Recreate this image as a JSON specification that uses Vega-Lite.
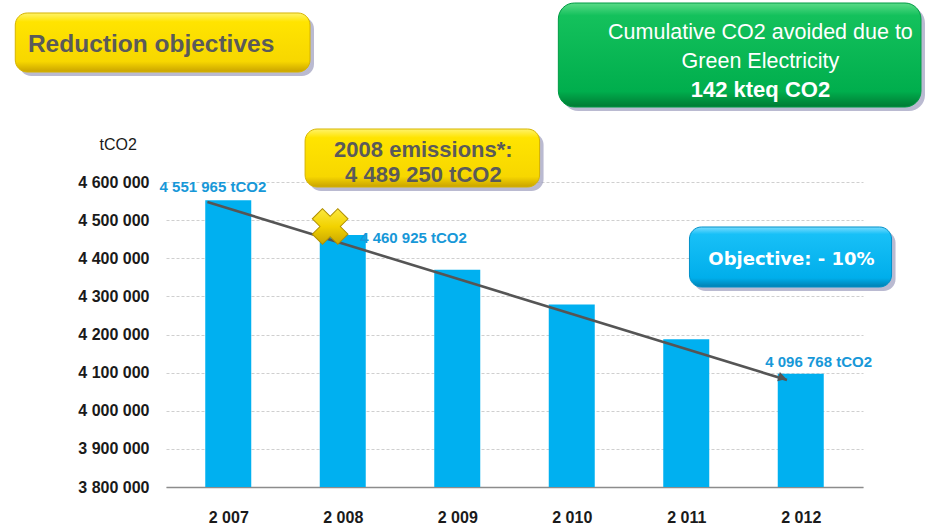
{
  "$schema": "https://vega.github.io/schema/vega-lite/v6.json",
  "width": 697,
  "height": 305,
  "autosize": {"type": "none"},
  "padding": {"left": 166, "top": 182, "right": 70, "bottom": 37},
  "background": "white",
  "config": {
    "view": {"stroke": null},
    "locale": {"number": {"decimal": ",", "thousands": " ", "grouping": [3], "currency": ["", ""]}},
    "font": "Liberation Sans"
  },
  "resolve": {"axis": {"x": "independent", "y": "independent"}},
  "layer": [
    {
      "data": {"values": [
        {"year": 2007, "emissions": 4551965},
        {"year": 2008, "emissions": 4460925},
        {"year": 2009, "emissions": 4369886},
        {"year": 2010, "emissions": 4278847},
        {"year": 2011, "emissions": 4187808},
        {"year": 2012, "emissions": 4096768}
      ]},
      "mark": {"type": "bar", "size": 46, "color": "#00B0F0"},
      "encoding": {
        "x": {"field": "year", "type": "quantitative",
          "scale": {"domain": [2006.5, 2012.5], "nice": false, "zero": false},
          "axis": {"title": null, "values": [2007, 2008, 2009, 2010, 2011, 2012], "format": ",d",
            "grid": false, "ticks": false, "domainColor": "#8C8C8C", "domainWidth": 1.5, "labelOverlap": false,
            "labelFont": "Liberation Sans", "labelFontSize": 16, "labelFontWeight": "bold",
            "labelColor": "#1A1A1A", "labelPadding": 22}},
        "y": {"field": "emissions", "type": "quantitative",
          "scale": {"domain": [3800000, 4600000], "nice": false, "zero": false},
          "axis": {"title": null, "values": [3800000, 3900000, 4000000, 4100000, 4200000, 4300000, 4400000, 4500000, 4600000],
            "format": ",d", "domain": false, "ticks": false, "grid": true, "gridDash": [3, 2],
            "gridColor": "#CFCFCF", "gridWidth": 1, "labelOverlap": false,
            "labelFont": "Liberation Sans", "labelFontSize": 16, "labelFontWeight": "bold",
            "labelColor": "#1A1A1A", "labelPadding": 17}},
        "y2": {"datum": 3800000}
      }
    },
    {
      "data": {"values": [
        {"year": 2006.818, "value": 4547600},
        {"year": 2011.88, "value": 4080700}
      ]},
      "mark": {"type": "line", "color": "#555555", "strokeWidth": 2.6},
      "encoding": {
        "x": {"field": "year", "type": "quantitative", "axis": null, "scale": {"domain": [2006.5, 2012.5], "nice": false, "zero": false}},
        "y": {"field": "value", "type": "quantitative", "axis": null, "scale": {"domain": [3800000, 4600000], "nice": false, "zero": false}}
      }
    },
    {
      "data": {"values": [{}]},
      "mark": {"type": "point", "shape": "triangle-right", "filled": true, "color": "#555555", "size": 90, "angle": 16.8, "opacity": 1},
      "encoding": {
        "x": {"datum": 2011.84, "type": "quantitative", "axis": null},
        "y": {"datum": 4086500, "type": "quantitative", "axis": null}
      }
    },
    {
      "data": {"values": [{}]},
      "mark": {"type": "point", "shape": "cross", "filled": true, "angle": 45, "size": 1300, "opacity": 1,
        "fill": {"gradient": "linear", "x1": 0, "y1": 0, "x2": 1, "y2": 1,
          "stops": [{"offset": 0, "color": "#FFF15A"}, {"offset": 0.5, "color": "#F2D200"}, {"offset": 1, "color": "#B89400"}]},
        "stroke": "#B08F00", "strokeWidth": 1},
      "encoding": {
        "x": {"datum": 2007.89, "type": "quantitative", "axis": null},
        "y": {"datum": 4483300, "type": "quantitative", "axis": null}
      }
    },
    {
      "data": {"values": [{}]},
      "mark": {"type": "text", "text": "4 551 965 tCO2", "font": "Liberation Sans", "fontWeight": "bold", "fontSize": 15, "color": "#1798D8", "align": "center", "baseline": "middle"},
      "encoding": {"x": {"datum": 2006.866, "type": "quantitative", "axis": null}, "y": {"datum": 4586900, "type": "quantitative", "axis": null}}
    },
    {
      "data": {"values": [{}]},
      "mark": {"type": "text", "text": "4 460 925 tCO2", "font": "Liberation Sans", "fontWeight": "bold", "fontSize": 15, "color": "#1798D8", "align": "center", "baseline": "middle"},
      "encoding": {"x": {"datum": 2008.618, "type": "quantitative", "axis": null}, "y": {"datum": 4453100, "type": "quantitative", "axis": null}}
    },
    {
      "data": {"values": [{}]},
      "mark": {"type": "text", "text": "4  096 768 tCO2", "font": "Liberation Sans", "fontWeight": "bold", "fontSize": 15, "color": "#1798D8", "align": "center", "baseline": "middle"},
      "encoding": {"x": {"datum": 2012.156, "type": "quantitative", "axis": null}, "y": {"datum": 4127900, "type": "quantitative", "axis": null}}
    },
    {
      "data": {"values": [{}]},
      "mark": {"type": "text", "text": "tCO2", "font": "Liberation Sans", "fontSize": 16, "color": "#1A1A1A", "align": "center", "baseline": "middle"},
      "encoding": {"x": {"datum": 2006.039, "type": "quantitative", "axis": null}, "y": {"datum": 4697100, "type": "quantitative", "axis": null}}
    },
    {
      "data": {"values": [{}]},
      "mark": {"type": "rect", "cornerRadius": 12, "fill": "#9C9CBE", "opacity": 0.7, "xOffset": 4, "x2Offset": 4, "yOffset": 4, "y2Offset": 4},
      "encoding": {
        "x": {"datum": 2005.14, "type": "quantitative", "axis": null}, "x2": {"datum": 2007.714},
        "y": {"datum": 5043300, "type": "quantitative", "axis": null}, "y2": {"datum": 4888500}
      }
    },
    {
      "data": {"values": [{}]},
      "mark": {"type": "rect", "cornerRadius": 12, "stroke": "#D6B400", "strokeWidth": 1,
        "fill": {"gradient": "linear", "x1": 0, "y1": 0, "x2": 0, "y2": 1,
          "stops": [{"offset": 0, "color": "#FFF36B"}, {"offset": 0.15, "color": "#FFE400"}, {"offset": 0.82, "color": "#F7D700"}, {"offset": 1, "color": "#C9A300"}]}},
      "encoding": {
        "x": {"datum": 2005.14, "type": "quantitative", "axis": null}, "x2": {"datum": 2007.714},
        "y": {"datum": 5043300, "type": "quantitative", "axis": null}, "y2": {"datum": 4888500}
      }
    },
    {
      "data": {"values": [{}]},
      "mark": {"type": "text", "text": "Reduction objectives", "font": "Liberation Sans", "fontWeight": "bold", "fontSize": 24.5, "color": "#5A5A5A", "align": "left", "baseline": "middle"},
      "encoding": {"x": {"datum": 2005.25, "type": "quantitative", "axis": null}, "y": {"datum": 4959400, "type": "quantitative", "axis": null}}
    },
    {
      "data": {"values": [{}]},
      "mark": {"type": "rect", "cornerRadius": 16, "fill": "#9C9CBE", "opacity": 0.7, "xOffset": 4, "x2Offset": 4, "yOffset": 4, "y2Offset": 4},
      "encoding": {
        "x": {"datum": 2009.883, "type": "quantitative", "axis": null}, "x2": {"datum": 2013.05},
        "y": {"datum": 5069500, "type": "quantitative", "axis": null}, "y2": {"datum": 4796700}
      }
    },
    {
      "data": {"values": [{}]},
      "mark": {"type": "rect", "cornerRadius": 16, "stroke": "#009A44", "strokeWidth": 1,
        "fill": {"gradient": "linear", "x1": 0, "y1": 0, "x2": 0, "y2": 1,
          "stops": [{"offset": 0, "color": "#5ADB88"}, {"offset": 0.12, "color": "#14C15C"}, {"offset": 0.85, "color": "#00AE4D"}, {"offset": 1, "color": "#007A33"}]}},
      "encoding": {
        "x": {"datum": 2009.883, "type": "quantitative", "axis": null}, "x2": {"datum": 2013.05},
        "y": {"datum": 5069500, "type": "quantitative", "axis": null}, "y2": {"datum": 4796700}
      }
    },
    {
      "data": {"values": [{}]},
      "mark": {"type": "text", "text": "Cumulative CO2 avoided due to", "font": "Liberation Sans", "fontSize": 21.5, "color": "white", "align": "center", "baseline": "middle"},
      "encoding": {"x": {"datum": 2011.648, "type": "quantitative", "axis": null}, "y": {"datum": 4990800, "type": "quantitative", "axis": null}}
    },
    {
      "data": {"values": [{}]},
      "mark": {"type": "text", "text": "Green Electricity", "font": "Liberation Sans", "fontSize": 21.5, "color": "white", "align": "center", "baseline": "middle"},
      "encoding": {"x": {"datum": 2011.648, "type": "quantitative", "axis": null}, "y": {"datum": 4914800, "type": "quantitative", "axis": null}}
    },
    {
      "data": {"values": [{}]},
      "mark": {"type": "text", "text": "142 kteq CO2", "font": "Liberation Sans", "fontWeight": "bold", "fontSize": 22, "color": "white", "align": "center", "baseline": "middle"},
      "encoding": {"x": {"datum": 2011.648, "type": "quantitative", "axis": null}, "y": {"datum": 4841300, "type": "quantitative", "axis": null}}
    },
    {
      "data": {"values": [{}]},
      "mark": {"type": "rect", "cornerRadius": 12, "fill": "#9C9CBE", "opacity": 0.7, "xOffset": 4, "x2Offset": 4, "yOffset": 4, "y2Offset": 4},
      "encoding": {
        "x": {"datum": 2007.671, "type": "quantitative", "axis": null}, "x2": {"datum": 2009.719},
        "y": {"datum": 4739000, "type": "quantitative", "axis": null}, "y2": {"datum": 4586900}
      }
    },
    {
      "data": {"values": [{}]},
      "mark": {"type": "rect", "cornerRadius": 12, "stroke": "#D6B400", "strokeWidth": 1,
        "fill": {"gradient": "linear", "x1": 0, "y1": 0, "x2": 0, "y2": 1,
          "stops": [{"offset": 0, "color": "#FFF36B"}, {"offset": 0.15, "color": "#FFE400"}, {"offset": 0.82, "color": "#F7D700"}, {"offset": 1, "color": "#C9A300"}]}},
      "encoding": {
        "x": {"datum": 2007.671, "type": "quantitative", "axis": null}, "x2": {"datum": 2009.719},
        "y": {"datum": 4739000, "type": "quantitative", "axis": null}, "y2": {"datum": 4586900}
      }
    },
    {
      "data": {"values": [{}]},
      "mark": {"type": "text", "text": "2008 emissions*:", "font": "Liberation Sans", "fontWeight": "bold", "fontSize": 22, "color": "#5A5A5A", "align": "center", "baseline": "middle"},
      "encoding": {"x": {"datum": 2008.704, "type": "quantitative", "axis": null}, "y": {"datum": 4683900, "type": "quantitative", "axis": null}}
    },
    {
      "data": {"values": [{}]},
      "mark": {"type": "text", "text": "4 489 250 tCO2", "font": "Liberation Sans", "fontWeight": "bold", "fontSize": 22, "color": "#5A5A5A", "align": "center", "baseline": "middle"},
      "encoding": {"x": {"datum": 2008.704, "type": "quantitative", "axis": null}, "y": {"datum": 4618400, "type": "quantitative", "axis": null}}
    },
    {
      "data": {"values": [{}]},
      "mark": {"type": "rect", "cornerRadius": 12, "fill": "#9C9CBE", "opacity": 0.7, "xOffset": 4, "x2Offset": 4, "yOffset": 4, "y2Offset": 4},
      "encoding": {
        "x": {"datum": 2011.028, "type": "quantitative", "axis": null}, "x2": {"datum": 2012.793},
        "y": {"datum": 4482000, "type": "quantitative", "axis": null}, "y2": {"datum": 4324600}
      }
    },
    {
      "data": {"values": [{}]},
      "mark": {"type": "rect", "cornerRadius": 12, "stroke": "#0090C8", "strokeWidth": 1,
        "fill": {"gradient": "linear", "x1": 0, "y1": 0, "x2": 0, "y2": 1,
          "stops": [{"offset": 0, "color": "#7ADCFF"}, {"offset": 0.12, "color": "#18C0F7"}, {"offset": 0.85, "color": "#00AEEB"}, {"offset": 1, "color": "#0080B2"}]}},
      "encoding": {
        "x": {"datum": 2011.028, "type": "quantitative", "axis": null}, "x2": {"datum": 2012.793},
        "y": {"datum": 4482000, "type": "quantitative", "axis": null}, "y2": {"datum": 4324600}
      }
    },
    {
      "data": {"values": [{}]},
      "mark": {"type": "text", "text": "Objective: - 10%", "font": "DejaVu Sans", "fontWeight": "bold", "fontSize": 18, "color": "white", "align": "center", "baseline": "middle"},
      "encoding": {"x": {"datum": 2011.919, "type": "quantitative", "axis": null}, "y": {"datum": 4395400, "type": "quantitative", "axis": null}}
    }
  ]
}
